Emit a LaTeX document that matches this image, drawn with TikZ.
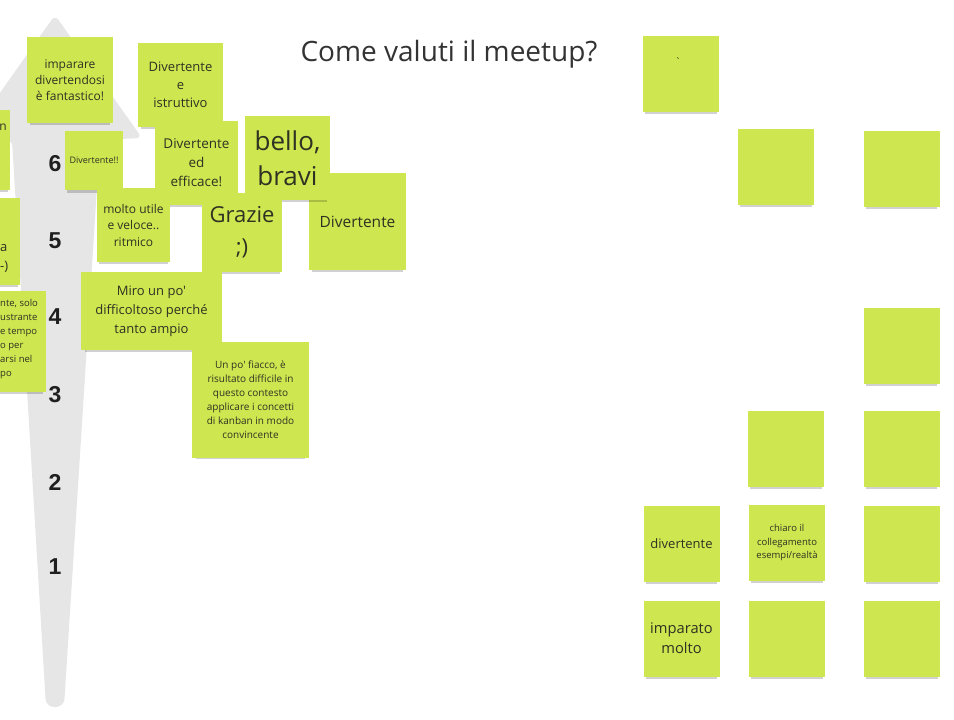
\documentclass[tikz,border=0pt]{standalone}
\usepackage{fontspec}
\setmainfont{Open Sans}[Ligatures=TeXOff]
\newfontfamily\numfont{Liberation Sans}
\usetikzlibrary{shadows}
\definecolor{notegreen}{HTML}{CEE650}
\definecolor{notetext}{HTML}{2E3222}
\definecolor{arrowgray}{HTML}{E6E6E6}
\tikzset{
  sticky/.style={fill=notegreen, text=notetext, align=center, inner sep=0pt,
    minimum width=76pt, minimum height=76pt,
    drop shadow={shadow xshift=0pt, shadow yshift=-5pt, shadow scale=0.94, fill=black, opacity=0.18}},
  level/.style={font=\numfont\bfseries\fontsize{23}{23}\selectfont, text=black!88},
}
\newcommand{\fsz}[2]{\fontsize{#1}{#2}\selectfont}

\begin{document}
\begin{tikzpicture}[x=1pt, y=-1pt]
  \useasboundingbox (0,0) rectangle (954,720);
  \clip (0,0) rectangle (954,720);

  % scale arrow
  \fill[arrowgray, rounded corners=6pt] (55,15) -- (142,138) -- (100,140)
    [rounded corners=8pt] -- (64,707) -- (46,707) [rounded corners=6pt] -- (12,140) -- (-32,138) -- cycle;
  \node[level] (l6) at (55,164) {6};
  \node[level] (l5) at (55,241) {5};
  \node[level] (l4) at (55,317) {4};
  \node[level] (l3) at (55,395) {3};
  \node[level] (l2) at (55,482) {2};
  \node[level] (l1) at (55,567) {1};

  \node[text=black!80, font=\fsz{28}{32}] (title) at (449,54) {Come valuti il meetup?};

  % notes on the scale
  \node[sticky, minimum width=80pt, minimum height=80pt] (cutA) at (-30,150) {};
  \node[text=notetext, font=\fsz{12}{16}] (cutAtxt) at (3,127) {n};
  \node[sticky, minimum width=86pt, minimum height=86pt, font=\fsz{12}{16}] (fant) at (70,80) {imparare\\divertendosi\\è fantastico!};
  \node[sticky, minimum width=85pt, minimum height=84pt, font=\fsz{13}{18}] (istr) at (180.5,85) {Divertente\\e\\istruttivo};
  \node[sticky, minimum width=97pt, minimum height=97pt, font=\fsz{15.5}{19}] (div) at (357.5,221.5) {Divertente};
  \node[sticky, minimum width=83pt, minimum height=84pt, font=\fsz{13.5}{19}] (effi) at (196.5,163) {Divertente\\ed\\efficace!};
  \node[sticky, minimum width=85pt, minimum height=84pt, font=\fsz{26}{35}] (bello) at (287.5,158) {bello,\\bravi};
  \node[sticky, minimum width=58pt, minimum height=59pt, font=\fsz{9}{11}] (divss) at (94,160.5) {Divertente!!};
  \node[sticky, minimum width=73pt, minimum height=74pt, font=\fsz{12}{16.5}] (utile) at (133.5,225) {molto utile\\e veloce..\\ritmico};
  \node[sticky, minimum width=80pt, minimum height=79pt, font=\fsz{22}{32}] (grazie) at (242,232.5) {Grazie\\;)};
  \node[sticky, minimum width=80pt, minimum height=87pt] (cutB) at (-20,241.5) {};
  \node[text=notetext, font=\fsz{13}{19}, align=left, anchor=west, inner sep=0pt] (cutBtxt) at (0,258) {a\\-)};
  \node[sticky, minimum width=141pt, minimum height=78pt, font=\fsz{13}{19}] (miro) at (151.5,311) {Miro un po'\\difficoltoso perché\\tanto ampio};
  \node[sticky, minimum width=116pt, minimum height=101pt] (cutC) at (-12,341.5) {};
  \node[text=notetext, font=\fsz{9.5}{14}, align=left, anchor=north west, inner sep=0pt] (cutCtxt) at (0,299)
    {nte, solo\\ustrante\\e tempo\\o per\\arsi nel\\po};
  \node[sticky, minimum width=117pt, minimum height=116pt, font=\fsz{10}{14}] (fiacco) at (250.5,400)
    {Un po' fiacco, è\\risultato difficile in\\questo contesto\\applicare i concetti\\di kanban in modo\\convincente};

  % notes on the right
  \node[sticky] (r1) at (681,74) {};
  \node[text=notetext, font=\fsz{10}{10}] (r1txt) at (678,62) {`};
  \node[sticky] (r2) at (776,166.5) {};
  \node[sticky] (r3) at (901.5,168.5) {};
  \node[sticky] (r4) at (901.5,346) {};
  \node[sticky] (r5) at (786,449) {};
  \node[sticky] (r6) at (901.5,449) {};
  \node[sticky, font=\fsz{13}{16}] (b1) at (681.5,543.5) {divertente};
  \node[sticky, font=\fsz{9.5}{13.5}] (b2) at (787,543) {chiaro il\\collegamento\\esempi/realtà};
  \node[sticky] (b3) at (902,543.5) {};
  \node[sticky, font=\fsz{14.7}{20}] (b4) at (681.5,638.5) {imparato\\molto};
  \node[sticky] (b5) at (787,638.5) {};
  \node[sticky] (b6) at (902,638.5) {};
\end{tikzpicture}
\end{document}
